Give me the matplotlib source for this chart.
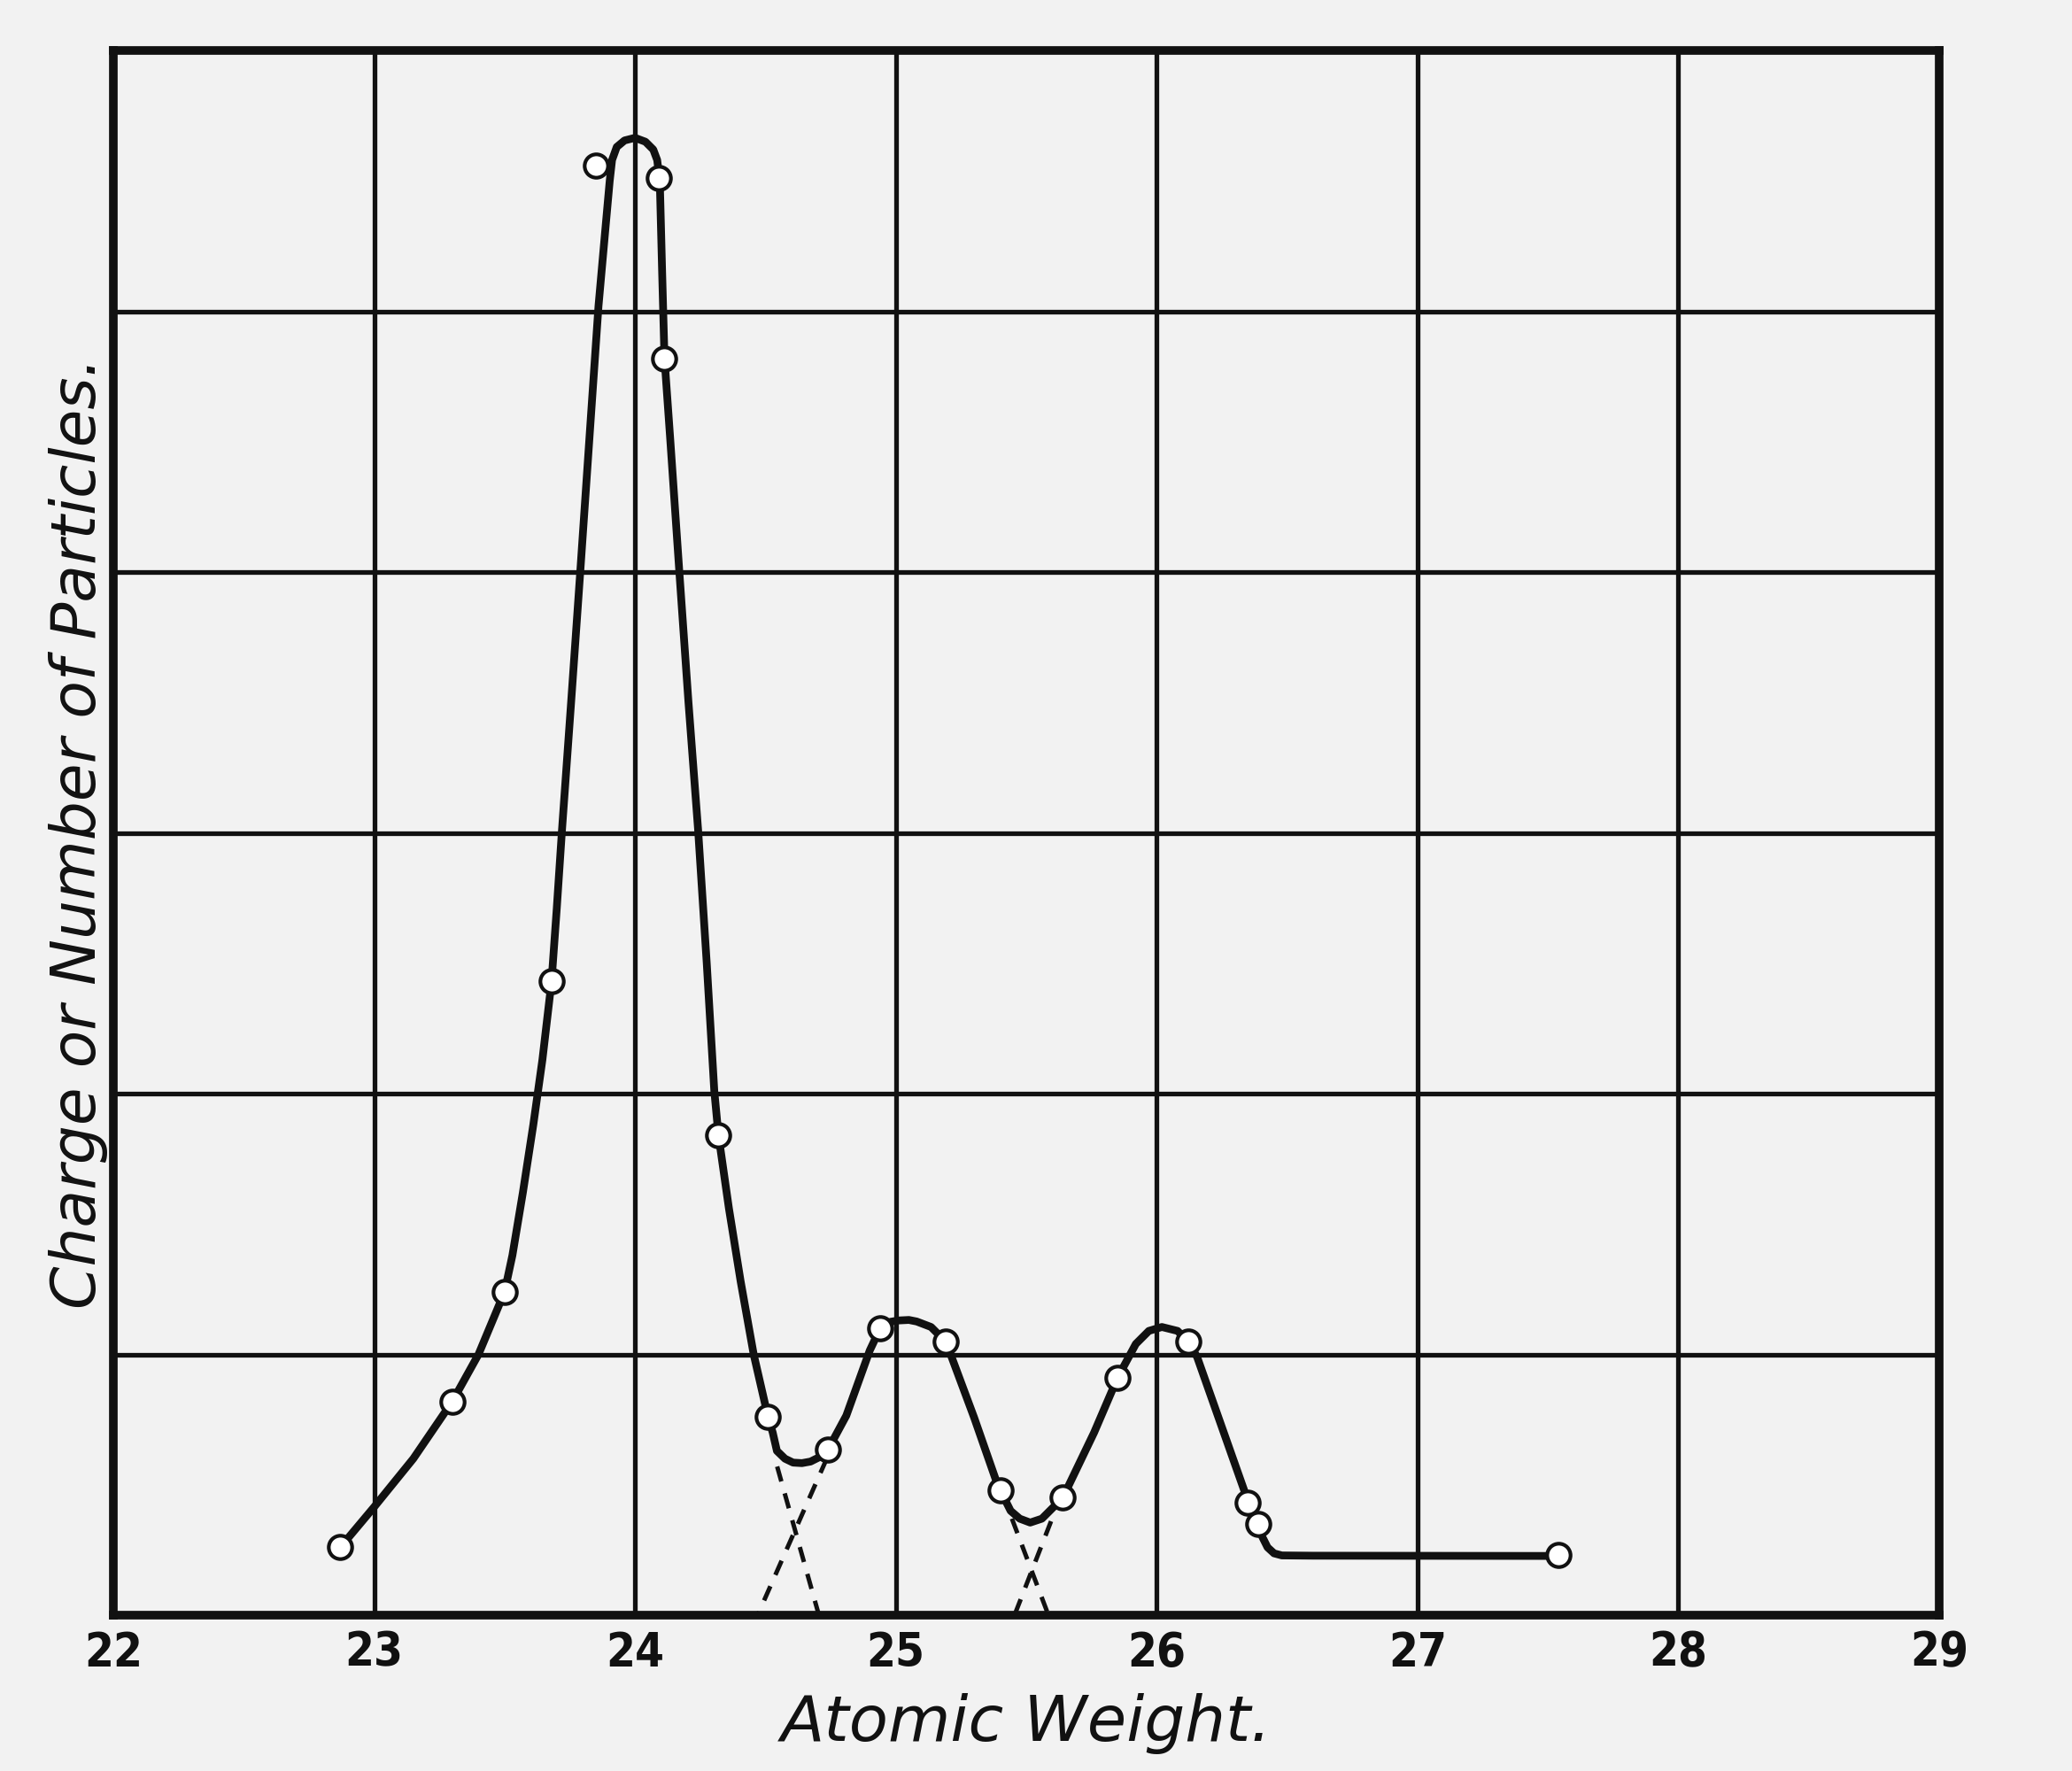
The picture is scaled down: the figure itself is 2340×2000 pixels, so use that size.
import matplotlib
matplotlib.use("Agg")
import matplotlib.pyplot as plt
import numpy as np

# measured points (open circles)
atomic_weight = [22.87, 23.30, 23.50, 23.68, 23.85, 24.09, 24.11, 24.32, 24.51, 24.74,
                 24.94, 25.19, 25.40, 25.64, 25.85, 26.12, 26.35, 26.39, 27.54]
charge = [0.26, 0.82, 1.24, 2.43, 5.56, 5.51, 4.82, 1.84, 0.76, 0.635,
          1.10, 1.05, 0.48, 0.45, 0.91, 1.05, 0.43, 0.35, 0.23]

# hand drawn curve
curve_x = [22.87, 23.00, 23.15, 23.30, 23.40, 23.50, 23.53, 23.57, 23.61, 23.645,
           23.68, 23.70, 23.72, 23.755, 23.79, 23.825, 23.86, 23.885, 23.903, 23.912,
           23.93, 23.96, 24.00, 24.04, 24.07, 24.085, 24.095, 24.104, 24.113, 24.135,
           24.17, 24.205, 24.242, 24.275, 24.304, 24.32, 24.36, 24.405, 24.455, 24.51,
           24.528, 24.544, 24.575, 24.606, 24.64, 24.673, 24.705, 24.74, 24.775, 24.81,
           24.855, 24.90, 24.94, 24.98, 25.01, 25.05, 25.08, 25.135, 25.19, 25.21,
           25.30, 25.39, 25.40, 25.42, 25.44, 25.475, 25.515, 25.56, 25.60, 25.64,
           25.70, 25.76, 25.85, 25.92, 25.97, 26.02, 26.08, 26.12, 26.155, 26.245,
           26.335, 26.35, 26.39, 26.405, 26.425, 26.45, 26.48, 26.60, 27.54]
curve_y = [0.26, 0.415, 0.60, 0.82, 1.00, 1.24, 1.38, 1.62, 1.88, 2.13,
           2.43, 2.71, 3.01, 3.50, 4.00, 4.51, 5.02, 5.30, 5.50, 5.58,
           5.63, 5.655, 5.665, 5.65, 5.62, 5.58, 5.50, 5.15, 4.82, 4.51,
           4.00, 3.50, 3.01, 2.50, 2.01, 1.84, 1.56, 1.28, 1.00, 0.76,
           0.70, 0.63, 0.60, 0.585, 0.583, 0.589, 0.605, 0.635, 0.70, 0.765,
           0.89, 1.015, 1.10, 1.125, 1.13, 1.132, 1.126, 1.105, 1.05, 1.00,
           0.758, 0.50, 0.48, 0.44, 0.40, 0.37, 0.355, 0.37, 0.41, 0.45,
           0.575, 0.70, 0.91, 1.04, 1.09, 1.105, 1.09, 1.05, 0.99, 0.735,
           0.48, 0.43, 0.35, 0.30, 0.26, 0.237, 0.229, 0.228, 0.227]

# dashed extensions of the flanks
dash_a_x = [24.545, 24.705]
dash_a_y = [0.57, 0.0]
dash_b_x = [24.735, 24.47]
dash_b_y = [0.60, 0.0]
dash_c_x = [25.445, 25.585]
dash_c_y = [0.37, 0.0]
dash_d_x = [25.595, 25.455]
dash_d_y = [0.36, 0.0]

x_ticks = [22, 23, 24, 25, 26, 27, 28, 29]
y_grid = [1, 2, 3, 4, 5]

bg = "#f2f2f2"
ink = "#111111"

fig = plt.figure(figsize=(23.4, 20), dpi=100, facecolor=bg)
ax = fig.add_axes([0.0547, 0.088, 0.8812, 0.8835])
ax.set_facecolor(bg)

ax.set_xlim(22, 29)
ax.set_ylim(0, 6)
ax.set_xticks(x_ticks)
ax.set_xticklabels([str(t) for t in x_ticks], fontsize=38, fontweight="bold",
                   fontstretch="condensed")
ax.set_yticks(y_grid)
ax.set_yticklabels([])
ax.tick_params(length=0, pad=12, colors=ink)
ax.grid(True, color=ink, linewidth=3.8)
ax.set_axisbelow(True)
for sp in ax.spines.values():
    sp.set_linewidth(7)
    sp.set_color(ink)

for dx, dy in [(dash_a_x, dash_a_y), (dash_b_x, dash_b_y),
               (dash_c_x, dash_c_y), (dash_d_x, dash_d_y)]:
    ax.plot(dx, dy, color=ink, linewidth=3.6, linestyle=(0, (3.5, 2.8)), zorder=3)

ax.plot(curve_x, curve_y, color=ink, linewidth=6.3, solid_joinstyle="round",
        solid_capstyle="round", zorder=4)
ax.plot(atomic_weight, charge, linestyle="none", marker="o", markersize=19,
        markerfacecolor="white", markeredgecolor=ink, markeredgewidth=3.0, zorder=5)

ax.set_xlabel("Atomic Weight.", fontsize=52, style="italic", color=ink, labelpad=14)
ax.set_ylabel("Charge or Number of Particles.", fontsize=50, style="italic",
              color=ink, labelpad=-8)

fig.savefig("out.png", dpi=100, facecolor=bg)
